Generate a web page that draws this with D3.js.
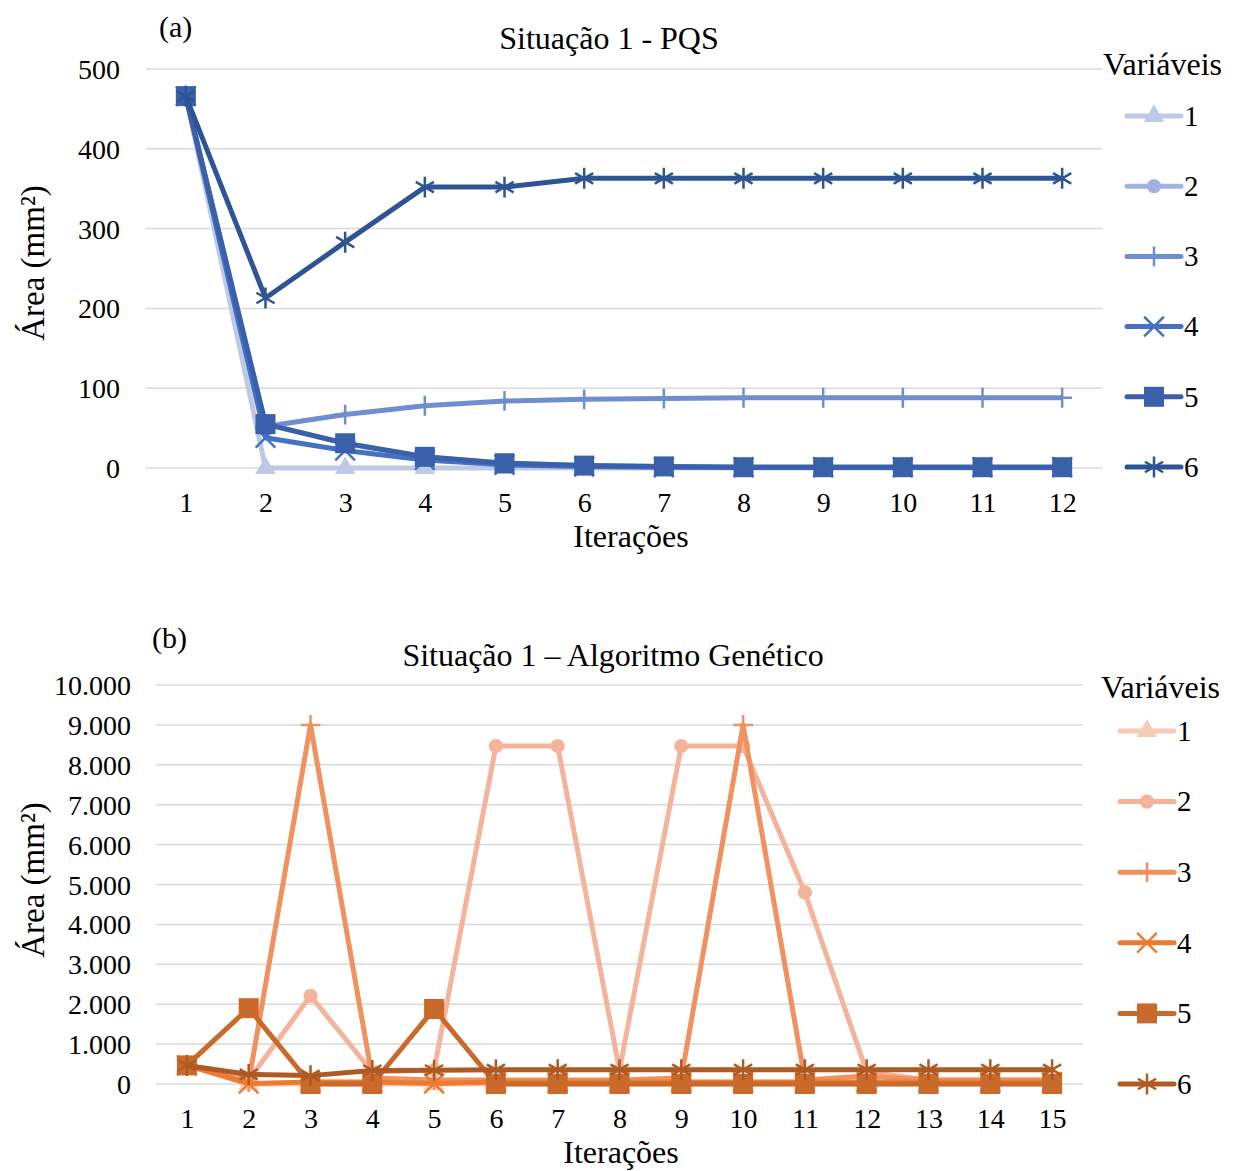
<!DOCTYPE html>
<html>
<head>
<meta charset="utf-8">
<script src="https://cdn.jsdelivr.net/npm/d3@7"></script>
<style>
  body { margin: 0; background: #fff; }
  svg text { font-family: "Liberation Serif", "Times New Roman", serif; fill: #000; }
</style>
</head>
<body>
<svg id="chart" width="1239" height="1171"></svg>
<script>
// ---- data ----
var iterationsPQS = [1, 2, 3, 4, 5, 6, 7, 8, 9, 10, 11, 12];
var pqsVar1 = [466, 0, 0, 0, 0, 0, 0, 0, 0, 0, 0, 0];
var pqsVar2 = [466, 55, 31, 14, 6, 3, 2, 1, 1, 1, 1, 1];
var pqsVar3 = [466, 52, 67, 78, 84, 86, 87, 88, 88, 88, 88, 88];
var pqsVar4 = [466, 38, 22, 10, 4, 2, 1, 1, 1, 1, 1, 1];
var pqsVar5 = [466, 55, 31, 14, 6, 3, 2, 1, 1, 1, 1, 1];
var pqsVar6 = [466, 213, 283, 352, 352, 363, 363, 363, 363, 363, 363, 363];
var pqsTicks = [0, 100, 200, 300, 400, 500];

var iterationsAG = [1, 2, 3, 4, 5, 6, 7, 8, 9, 10, 11, 12, 13, 14, 15];
var agVar1 = [466, 0, 0, 0, 0, 0, 0, 0, 0, 0, 0, 0, 0, 0, 0];
var agVar2 = [466, 100, 2210, 300, 350, 8470, 8470, 350, 8470, 8470, 4800, 300, 100, 100, 100];
var agVar3 = [466, 50, 9000, 150, 100, 100, 100, 100, 150, 9000, 100, 200, 100, 100, 100];
var agVar4 = [466, 10, 50, 50, 10, 50, 50, 50, 50, 50, 50, 50, 50, 50, 50];
var agVar5 = [466, 1900, 0, 0, 1880, 0, 0, 0, 0, 0, 0, 0, 0, 0, 0];
var agVar6 = [466, 240, 210, 340, 345, 360, 360, 360, 360, 360, 360, 360, 360, 360, 360];
var agTicks = [0, 1000, 2000, 3000, 4000, 5000, 6000, 7000, 8000, 9000, 10000];

var seriesNames = ["1", "2", "3", "4", "5", "6"];
var markerTypes = ["triangle", "circle", "plus", "x", "square", "asterisk"];
var bluePalette = ["#BDC9E6", "#A1B2DF", "#6F8ECF", "#4571C4", "#3A60A9", "#2F5494"];
var orangePalette = ["#F8CBB4", "#F4B49B", "#F0915F", "#E97C30", "#C9692A", "#AF5A23"];

var ptBR = d3.formatLocale({decimal: ",", thousands: ".", grouping: [3], currency: ["R$", ""]});

/**
 * One panel: line chart with markers, gridlines and legend on the right
 */
function LineChart(opts){
    var self = this;
    self.opts = opts;
    self.init();
};

LineChart.prototype.init = function(){
    var self = this;
    var o = self.opts;
    self.svg = d3.select("#chart");
    self.g = self.svg.append("g");

    self.x = d3.scalePoint()
        .domain(o.categories)
        .range([o.left, o.right])
        .padding(0.5);
    self.y = d3.scaleLinear()
        .domain([0, o.yMax])
        .range([o.bottom, o.top]);
};

LineChart.prototype.isStroked = function(type){
    return type === "plus" || type === "x" || type === "asterisk";
};

LineChart.prototype.symbolFor = function(type){
    var sizes = {triangle: 180, circle: 160, square: 400, plus: 130, x: 255, asterisk: 310};
    var map = {triangle: d3.symbolTriangle, circle: d3.symbolCircle, square: d3.symbolSquare,
               plus: d3.symbolPlus, x: d3.symbolX, asterisk: d3.symbolAsterisk};
    return d3.symbol().type(map[type]).size(sizes[type]);
};

LineChart.prototype.update = function(series){
    var self = this;
    var o = self.opts;
    var g = self.g;

    // gridlines
    g.append("g").selectAll("line")
        .data(o.ticks)
        .enter().append("line")
        .attr("x1", o.left).attr("x2", o.right)
        .attr("y1", function(d){ return self.y(d); })
        .attr("y2", function(d){ return self.y(d); })
        .attr("stroke", "#D9D9D9")
        .attr("stroke-width", 1.5);

    var yAxis = d3.axisLeft(self.y).tickValues(o.ticks).tickFormat(o.format).tickSize(0).tickPadding(0);
    var ya = g.append("g").attr("transform", "translate(" + o.yLabelX + ",0)").call(yAxis);
    ya.select(".domain").remove();
    ya.selectAll("text").style("font-size", "28px").attr("dy", "0.34em");

    var xAxis = d3.axisBottom(self.x).tickSize(0).tickPadding(0);
    var xa = g.append("g").attr("transform", "translate(0," + o.xLabelY + ")").call(xAxis);
    xa.select(".domain").remove();
    xa.selectAll("text").style("font-size", "28px").attr("dy", "0.34em");

    var line = d3.line()
        .x(function(d, i){ return self.x(o.categories[i]); })
        .y(function(d){ return self.y(d); });

    var groups = g.selectAll(".series")
        .data(series)
        .enter().append("g")
        .attr("class", "series");

    groups.append("path")
        .attr("d", function(d){ return line(d.values); })
        .attr("fill", "none")
        .attr("stroke", function(d){ return d.color; })
        .attr("stroke-width", 5)
        .attr("stroke-linejoin", "round");

    groups.each(function(s){
        var sym = self.symbolFor(s.marker);
        var stroked = self.isStroked(s.marker);
        d3.select(this).selectAll(".mark")
            .data(s.values)
            .enter().append("path")
            .attr("class", "mark")
            .attr("transform", function(d, i){
                return "translate(" + self.x(o.categories[i]) + "," + self.y(d) + ")";
            })
            .attr("d", sym)
            .attr("fill", stroked ? "none" : s.color)
            .attr("stroke", s.color)
            .attr("stroke-width", stroked ? 2.5 : 0);
    });

    // titles
    g.append("text").attr("x", o.tagX).attr("y", o.tagY)
        .style("font-size", "30px").text(o.tag);
    g.append("text").attr("x", o.titleX).attr("y", o.titleY)
        .attr("text-anchor", "middle").style("font-size", "32px").text(o.title);
    g.append("text").attr("x", o.xTitleX).attr("y", o.xTitleY)
        .attr("text-anchor", "middle").style("font-size", "32px").text("Iterações");
    g.append("text")
        .attr("transform", "translate(" + o.yTitleX + "," + o.yTitleY + ") rotate(-90)")
        .attr("text-anchor", "middle").style("font-size", "33px").text("Área (mm²)");

    // legend
    var lg = g.append("g");
    lg.append("text").attr("x", o.legTitleX).attr("y", o.legTitleY)
        .style("font-size", "32px").text("Variáveis");
    var items = lg.selectAll(".leg")
        .data(series)
        .enter().append("g")
        .attr("transform", function(d, i){ return "translate(" + o.legX + "," + (o.legY0 + i * o.legStep) + ")"; });
    items.append("line")
        .attr("x1", 0).attr("x2", 54)
        .attr("stroke", function(d){ return d.color; })
        .attr("stroke-width", 5)
        .attr("stroke-linecap", "round");
    items.append("path")
        .attr("transform", "translate(27,0)")
        .attr("d", function(d){ return self.symbolFor(d.marker)(); })
        .attr("fill", function(d){ return self.isStroked(d.marker) ? "none" : d.color; })
        .attr("stroke", function(d){ return d.color; })
        .attr("stroke-width", function(d){ return self.isStroked(d.marker) ? 2.5 : 0; });
    items.append("text")
        .attr("x", 57).attr("dy", "0.34em")
        .style("font-size", "29px")
        .text(function(d){ return d.name; });
};

var pqsSeries = [pqsVar1, pqsVar2, pqsVar3, pqsVar4, pqsVar5, pqsVar6].map(function(v, i){
    return {name: seriesNames[i], values: v, color: bluePalette[i], marker: markerTypes[i]};
});
var agSeries = [agVar1, agVar2, agVar3, agVar4, agVar5, agVar6].map(function(v, i){
    return {name: seriesNames[i], values: v, color: orangePalette[i], marker: markerTypes[i]};
});

var chartA = new LineChart({
    categories: iterationsPQS, ticks: pqsTicks, yMax: 500, format: d3.format("d"),
    left: 146, right: 1102, top: 69, bottom: 468,
    yLabelX: 120, xLabelY: 502,
    tag: "(a)", tagX: 159, tagY: 37,
    title: "Situação 1 - PQS", titleX: 609, titleY: 49,
    xTitleX: 631, xTitleY: 547, yTitleX: 44, yTitleY: 263,
    legX: 1127, legTitleX: 1103, legTitleY: 75, legY0: 116, legStep: 70.2
});
chartA.update(pqsSeries);

var chartB = new LineChart({
    categories: iterationsAG, ticks: agTicks, yMax: 10000, format: ptBR.format(",d"),
    left: 156, right: 1083, top: 685, bottom: 1084,
    yLabelX: 131, xLabelY: 1118,
    tag: "(b)", tagX: 152, tagY: 648,
    title: "Situação 1 – Algoritmo Genético", titleX: 613, titleY: 666,
    xTitleX: 621, xTitleY: 1163, yTitleX: 44, yTitleY: 880,
    legX: 1120, legTitleX: 1101, legTitleY: 698, legY0: 731, legStep: 70.6
});
chartB.update(agSeries);
</script>
</body>
</html>
